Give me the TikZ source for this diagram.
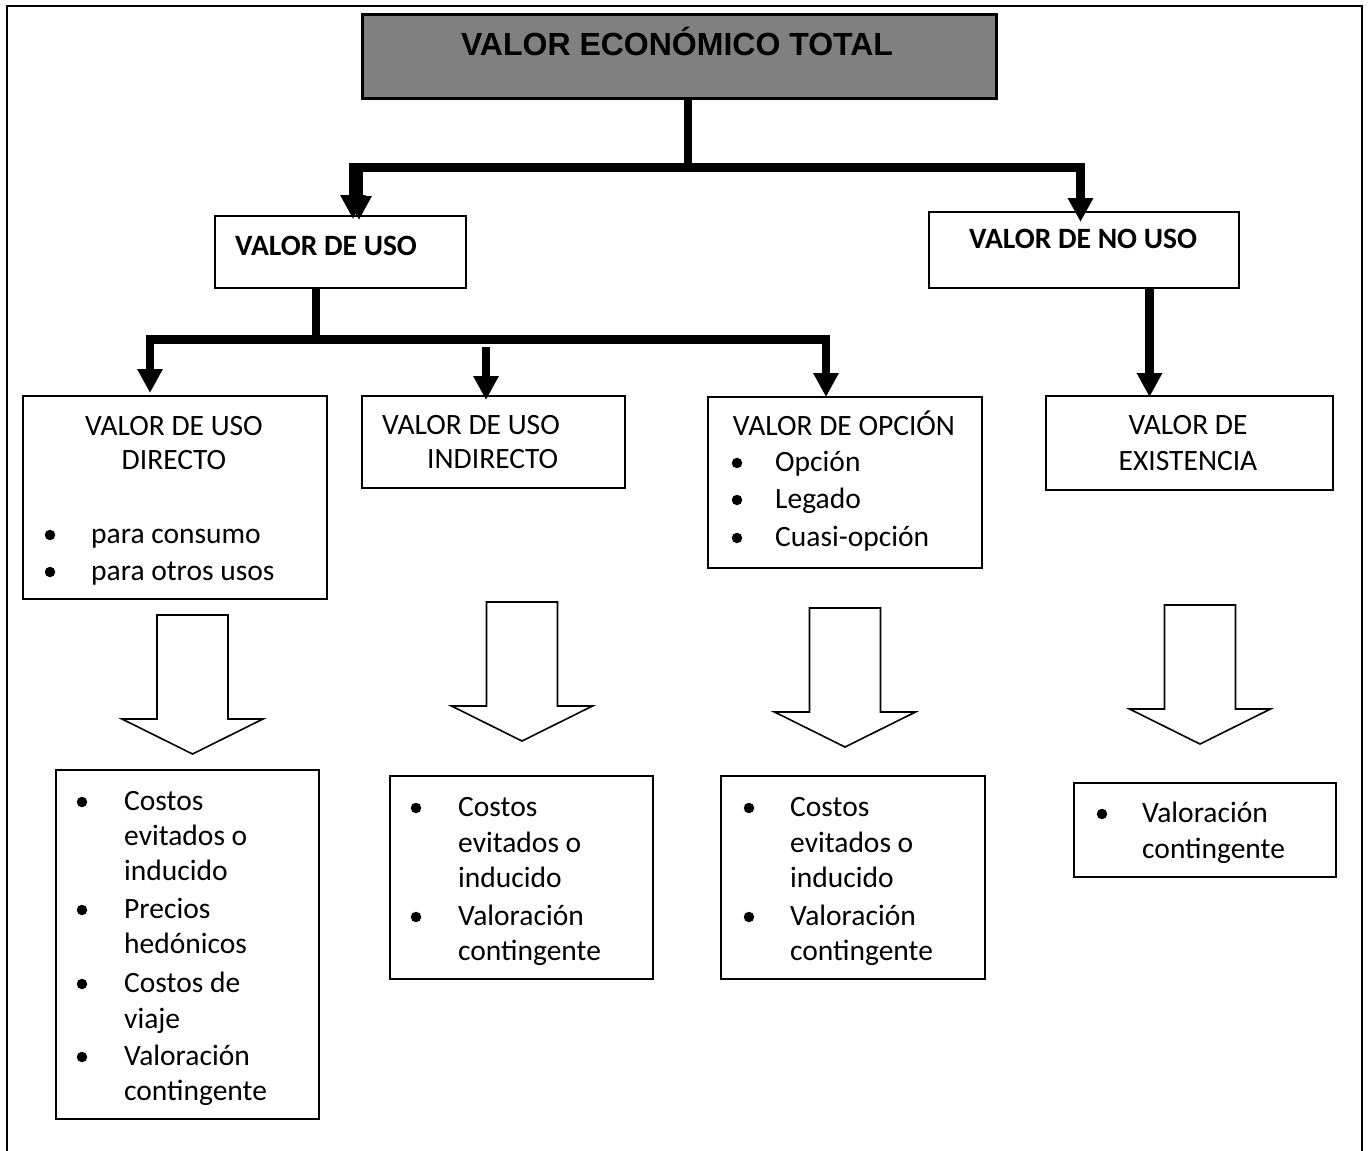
\documentclass[tikz,border=0pt]{standalone}
\usepackage{fontspec}
\setmainfont{Carlito}
\newfontfamily\titlefont{Liberation Sans}
\usetikzlibrary{arrows.meta,calc}
\definecolor{titlegray}{RGB}{128,128,128}

\begin{document}
\begin{tikzpicture}[x=1pt,y=-1pt,
  outerframe/.style={line width=2.5pt},
  box/.style={draw, line width=1.6pt, fill=white, inner sep=0pt, anchor=north west},
  hd/.style={font=\fontsize{29.5}{36}\selectfont\bfseries, inner sep=0pt, anchor=base west},
  bodyln/.style={font=\fontsize{29.5}{36}\selectfont, inner sep=0pt, anchor=base west},
  cbodyln/.style={bodyln, anchor=base},
  bulletdot/.style={circle, fill=black, inner sep=0pt, minimum size=10.5pt},
  conn/.style={line width=8.5pt, line join=miter},
  arrowtip/.style={-{Triangle[width=24pt,length=24pt]}},
  hollowarrow/.style={draw, line width=1.6pt, line join=miter}
]
\useasboundingbox (0,0) rectangle (1368,1151);

% outer frame, open at the bottom
\draw[outerframe] (7,1151) -- (7,6) -- (1362,6) -- (1362,1151);

% ---------- boxes ----------
\node[box, fill=titlegray, line width=2.5pt, minimum width=634pt, minimum height=84pt] (title) at (361,13) {};
\node[box, minimum width=251pt, minimum height=72pt] (uso) at (214,215) {};
\node[box, minimum width=310pt, minimum height=76pt] (nouso) at (928,211) {};
\node[box, minimum width=304pt, minimum height=203pt] (directo) at (22,395) {};
\node[box, minimum width=263pt, minimum height=92pt] (indirecto) at (361,395) {};
\node[box, minimum width=274pt, minimum height=171pt] (opcion) at (707,396) {};
\node[box, minimum width=287pt, minimum height=94pt] (existencia) at (1045,395) {};
\node[box, minimum width=263pt, minimum height=349pt] (metA) at (55,769) {};
\node[box, minimum width=263pt, minimum height=203pt] (metB) at (389,775) {};
\node[box, minimum width=264pt, minimum height=203pt] (metC) at (720,775) {};
\node[box, minimum width=262pt, minimum height=94pt] (metD) at (1073,782) {};

% ---------- headings ----------
\node[font=\titlefont\fontsize{32}{38}\selectfont\bfseries, inner sep=0pt, anchor=base] (title-t) at (677,55) {VALOR ECONÓMICO TOTAL};
\node[hd] (uso-t) at (235,255) {VALOR DE USO};
\node[hd] (nouso-t) at (969,248) {VALOR DE NO USO};

% ---------- second level ----------
\node[cbodyln] (directo-t1) at (174,435) {VALOR DE USO};
\node[cbodyln] (directo-t2) at (174,469) {DIRECTO};
\node[bulletdot] (directo-b1) at (50,535) {};
\node[bodyln] (directo-l1) at (91,543) {para consumo};
\node[bulletdot] (directo-b2) at (50,572) {};
\node[bodyln] (directo-l2) at (91,580) {para otros usos};

\node[bodyln] (indirecto-t1) at (382,434) {VALOR DE USO};
\node[bodyln] (indirecto-t2) at (427,468) {INDIRECTO};

\node[cbodyln] (opcion-t) at (844,435) {VALOR DE OPCIÓN};
\node[bulletdot] (opcion-b1) at (737,463) {};
\node[bodyln] (opcion-l1) at (775,471) {Opción};
\node[bulletdot] (opcion-b2) at (737,500) {};
\node[bodyln] (opcion-l2) at (775,508) {Legado};
\node[bulletdot] (opcion-b3) at (737,538) {};
\node[bodyln] (opcion-l3) at (775,546) {Cuasi-opción};

\node[cbodyln] (existencia-t1) at (1188,434) {VALOR DE};
\node[cbodyln] (existencia-t2) at (1188,470) {EXISTENCIA};

% ---------- valuation methods ----------
\node[bulletdot] (metA-b1) at (82,802) {};
\node[bodyln] (metA-l1) at (124,810) {Costos};
\node[bodyln] (metA-l2) at (124,845) {evitados o};
\node[bodyln] (metA-l3) at (124,880) {inducido};
\node[bulletdot] (metA-b2) at (82,910) {};
\node[bodyln] (metA-l4) at (124,918) {Precios};
\node[bodyln] (metA-l5) at (124,953) {hedónicos};
\node[bulletdot] (metA-b3) at (82,984) {};
\node[bodyln] (metA-l6) at (124,992) {Costos de};
\node[bodyln] (metA-l7) at (124,1028) {viaje};
\node[bulletdot] (metA-b4) at (82,1057) {};
\node[bodyln] (metA-l8) at (124,1065) {Valoración};
\node[bodyln] (metA-l9) at (124,1100) {contingente};

\node[bulletdot] (metB-b1) at (416,808) {};
\node[bodyln] (metB-l1) at (458,816) {Costos};
\node[bodyln] (metB-l2) at (458,852) {evitados o};
\node[bodyln] (metB-l3) at (458,887) {inducido};
\node[bulletdot] (metB-b2) at (416,917) {};
\node[bodyln] (metB-l4) at (458,925) {Valoración};
\node[bodyln] (metB-l5) at (458,960) {contingente};

\node[bulletdot] (metC-b1) at (749,808) {};
\node[bodyln] (metC-l1) at (790,816) {Costos};
\node[bodyln] (metC-l2) at (790,852) {evitados o};
\node[bodyln] (metC-l3) at (790,887) {inducido};
\node[bulletdot] (metC-b2) at (749,917) {};
\node[bodyln] (metC-l4) at (790,925) {Valoración};
\node[bodyln] (metC-l5) at (790,960) {contingente};

\node[bulletdot] (metD-b1) at (1102,814) {};
\node[bodyln] (metD-l1) at (1142,822) {Valoración};
\node[bodyln] (metD-l2) at (1142,858) {contingente};

% ---------- connectors from the total value ----------
\coordinate (busA) at (688,167.5);
\coordinate (busAL) at (353,167.5);
\coordinate (busAL2) at (359,167.5);
\coordinate (busAR) at (1080.5,167.5);
\draw[conn] (title.south -| busA) -- (busA);
\draw[conn, arrowtip] (busA) -| ($(uso.north -| busAL)+(0,4)$);
\draw[conn, arrowtip] (busAL2) -- ($(uso.north -| busAL2)+(0,5)$);
\draw[conn, arrowtip] (busA) -| ($(nouso.north -| busAR)+(0,11)$);

% ---------- connectors from the use value ----------
\coordinate (busB) at (316,339.5);
\coordinate (busBL) at (150,339.5);
\coordinate (busBR) at (826,339.5);
\draw[conn] (uso.south -| busB) -- (busB);
\draw[conn, arrowtip] (busB) -| ($(directo.north -| busBL)+(0,-2)$);
\draw[conn, arrowtip] (busB) -| ($(opcion.north -| busBR)+(0,1)$);
\coordinate (midtop) at (486,347);
\draw[conn, arrowtip] (midtop) -- ($(indirecto.north -| midtop)+(0,5)$);

% ---------- connector from the non-use value ----------
\coordinate (nuX) at (1149.5,300);
\draw[conn, arrowtip] (nouso.south -| nuX) -- ($(existencia.north -| nuX)+(0,2)$);

% ---------- hollow block arrows towards the methods ----------
\foreach \cx/\ty in {192.5/615, 522/602, 845/608, 1200/605} {
  \draw[hollowarrow] ({\cx-35.5},\ty) -- ({\cx+35.5},\ty) -- ({\cx+35.5},{\ty+104})
    -- ({\cx+70.5},{\ty+104}) -- (\cx,{\ty+139}) -- ({\cx-70.5},{\ty+104})
    -- ({\cx-35.5},{\ty+104}) -- cycle;
}
\end{tikzpicture}
\end{document}
